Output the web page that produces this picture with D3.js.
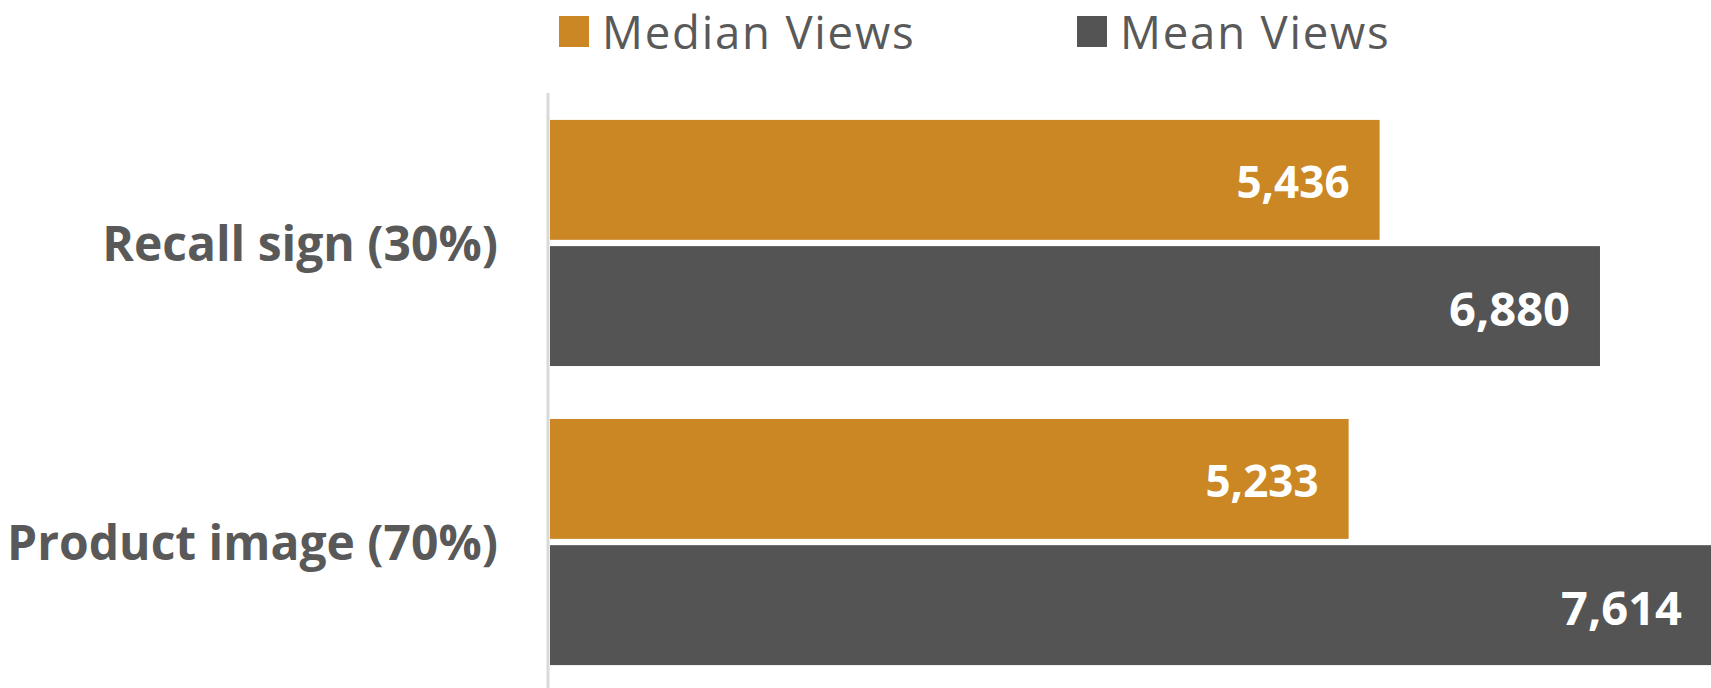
<!DOCTYPE html>
<html>
<head>
<meta charset="utf-8">
<script src="https://cdn.jsdelivr.net/npm/d3@7"></script>
<style>
  html, body { margin: 0; padding: 0; background: #ffffff; overflow: hidden; }
  svg { display: block; }
</style>
</head>
<body>
<svg id="chart" width="1711" height="688"></svg>
<script>
// Grouped horizontal bars: median vs mean views per image type
const categories = ["Recall sign (30%)", "Product image (70%)"];
const seriesNames = ["Median Views", "Mean Views"];
const medianViews = [5436, 5233];
const meanViews = [6880, 7614];

const colors = { "Median Views": "#CB8723", "Mean Views": "#545454" };
const textColor = "#595959";

const rows = categories.map((c, i) => ({
  category: c,
  values: [
    { series: "Median Views", value: medianViews[i] },
    { series: "Mean Views", value: meanViews[i] }
  ]
}));

const svg = d3.select("#chart");
const W = 1711, H = 688;
const plotLeft = 550, plotTop = 93, plotBottom = 692;

const x = d3.scaleLinear()
  .domain([0, d3.max(meanViews.concat(medianViews))])
  .range([plotLeft, 1712]);

const y0 = d3.scaleBand()
  .domain(categories)
  .range([plotTop, plotBottom])
  .paddingInner(0.177)
  .paddingOuter(0.09);

const y1 = d3.scaleBand()
  .domain(seriesNames)
  .range([0, y0.bandwidth()])
  .paddingInner(0.05);

// Bars
const groups = svg.selectAll("g.group")
  .data(rows)
  .join("g")
  .attr("class", "group")
  .attr("transform", d => `translate(0,${y0(d.category)})`);

groups.selectAll("rect")
  .data(d => d.values)
  .join("rect")
  .attr("x", x(0))
  .attr("y", d => y1(d.series))
  .attr("width", d => x(d.value) - x(0))
  .attr("height", y1.bandwidth())
  .attr("fill", d => colors[d.series]);

// Value labels inside the bar ends
const fmt = d3.format(",");
groups.selectAll("text.value")
  .data(d => d.values)
  .join("text")
  .attr("class", "value")
  .attr("x", d => x(d.value) - 30)
  .attr("y", d => y1(d.series) + y1.bandwidth() / 2)
  .attr("dy", "0.42em")
  .attr("text-anchor", "end")
  .attr("fill", "#ffffff")
  .attr("font-family", "'Open Sans', sans-serif")
  .attr("font-weight", 700)
  .attr("font-size", d => d.series === "Mean Views" ? 47 : 44)
  .text(d => fmt(d.value));

// Category axis
const yAxis = d3.axisLeft(y0).tickSize(0).tickPadding(50);
const axisG = svg.append("g")
  .attr("transform", `translate(${plotLeft - 2},0)`)
  .call(yAxis);
axisG.select(".domain").remove();
axisG.selectAll("text")
  .attr("fill", textColor)
  .attr("font-family", "'Open Sans', sans-serif")
  .attr("font-weight", 700)
  .attr("font-size", 48)
  .attr("dy", "0.37em");

svg.append("line")
  .attr("x1", plotLeft - 2).attr("x2", plotLeft - 2)
  .attr("y1", plotTop).attr("y2", H)
  .attr("stroke", "#d9d9d9")
  .attr("stroke-width", 3);

// Legend
const legendX = { "Median Views": 559, "Mean Views": 1077 };
const legend = svg.selectAll("g.legend")
  .data(seriesNames)
  .join("g")
  .attr("class", "legend")
  .attr("transform", d => `translate(${legendX[d]},16)`);

legend.append("rect")
  .attr("width", 30).attr("height", 31)
  .attr("fill", d => colors[d]);

legend.append("text")
  .attr("x", 43)
  .attr("y", 33)
  .attr("fill", textColor)
  .attr("font-family", "'Open Sans', sans-serif")
  .attr("font-size", 45.5)
  .attr("letter-spacing", 1.8)
  .text(d => d);
</script>
</body>
</html>
